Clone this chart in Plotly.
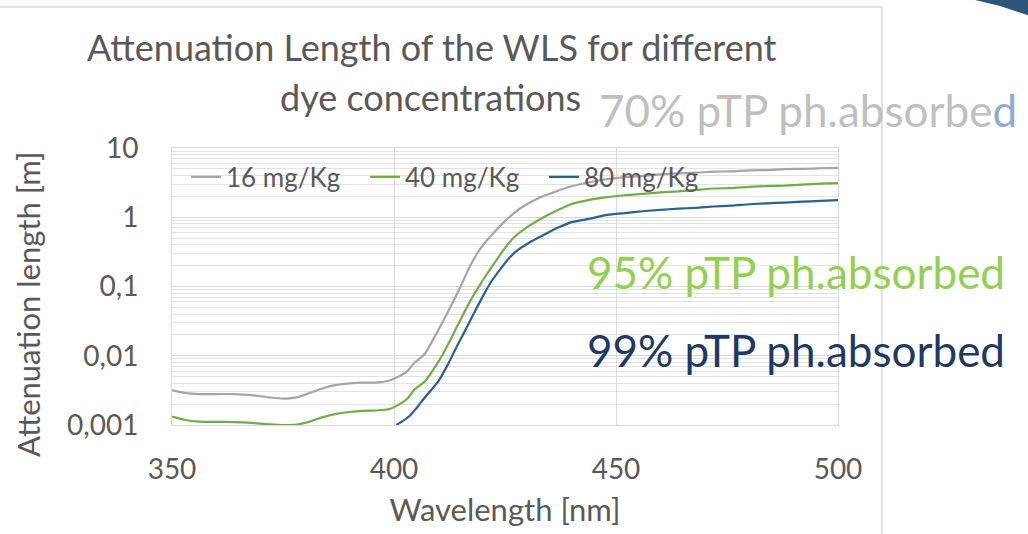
import plotly.graph_objects as go

# Wavelength grid (nm) and attenuation lengths (m) for the three dye concentrations
wl_16 = [350, 353, 356, 360, 364, 368, 372, 375, 378, 381, 384, 387, 390, 393, 396, 399,
         401, 403, 404.5, 405.5, 407, 409, 411, 413, 415, 417, 419, 421, 423, 425, 427,
         430, 433, 436, 440, 444, 448, 452, 456, 460, 464, 468, 472, 476, 480, 484, 488,
         492, 496, 500]
att_16 = [0.0032, 0.0029, 0.0028, 0.0028, 0.0028, 0.0027, 0.0025, 0.0024, 0.0025, 0.0029,
          0.0034, 0.0038, 0.0040, 0.0041, 0.0041, 0.0044, 0.0050, 0.0060, 0.0078, 0.0088,
          0.0108, 0.018, 0.031, 0.055, 0.100, 0.19, 0.32, 0.47, 0.65, 0.88, 1.15,
          1.55, 1.95, 2.3, 2.8, 3.2, 3.55, 3.8, 3.95, 4.15, 4.3, 4.4, 4.55, 4.6, 4.75,
          4.8, 4.95, 5.0, 5.1, 5.15]

wl_40 = [350, 353, 356, 360, 364, 368, 372, 375, 378, 381, 384, 387, 390, 393, 396, 399,
         401, 403, 404.5, 405.5, 407, 409, 411, 413, 415, 417, 419, 421, 423, 425, 427,
         430, 433, 436, 440, 444, 448, 452, 456, 460, 464, 468, 472, 476, 480, 484, 488,
         492, 496, 500]
att_40 = [0.00132, 0.00118, 0.00112, 0.00111, 0.00110, 0.00107, 0.00102, 0.00100, 0.00101,
          0.00112, 0.00130, 0.00145, 0.00154, 0.00160, 0.00162, 0.00170, 0.00195, 0.0024,
          0.0032, 0.0036, 0.0043, 0.0065, 0.0105, 0.0185, 0.0335, 0.059, 0.097, 0.154,
          0.237, 0.36, 0.51, 0.72, 0.945, 1.19, 1.55, 1.78, 1.95, 2.08, 2.18, 2.28, 2.36,
          2.48, 2.6, 2.64, 2.75, 2.82, 2.86, 2.95, 3.05, 3.12]

wl_80 = [400.5, 402, 403.5, 404.7, 405.5, 406.5, 408, 410, 412, 414, 416, 418, 420, 422,
         424, 426, 428, 431, 434, 437, 440, 444, 448, 452, 456, 460, 464, 468, 472, 476,
         480, 484, 488, 492, 496, 500]
att_80 = [0.00100, 0.00115, 0.00135, 0.00165, 0.0019, 0.0023, 0.0030, 0.0043, 0.0072,
          0.0130, 0.023, 0.041, 0.072, 0.12, 0.18, 0.26, 0.34, 0.45, 0.57, 0.71, 0.85,
          0.95, 1.08, 1.15, 1.22, 1.28, 1.33, 1.37, 1.43, 1.47, 1.54, 1.59, 1.63, 1.68,
          1.72, 1.77]

series_names = ["16 mg/Kg", "40 mg/Kg", "80 mg/Kg"]
series_colors = ["#a5a5a5", "#70ad47", "#2b5f94"]

y_tick_vals = [0.001, 0.01, 0.1, 1, 10]
y_tick_text = ["0,001", "0,01", "0,1", "1", "10"]
x_tick_vals = [350, 400, 450, 500]

FONT = "Lato"
TXT = "#595959"

fig = go.Figure()
for wl, att, name, col in zip([wl_16, wl_40, wl_80], [att_16, att_40, att_80],
                              series_names, series_colors):
    fig.add_trace(go.Scatter(x=wl, y=att, mode="lines", name=name,
                             line=dict(color=col, width=2.2, shape="spline", smoothing=0.6)))

# minor gridlines at 2..9 of each decade
minor_vals = [m * 10 ** e for e in range(-3, 1) for m in range(2, 10)]

W, H = 1028, 534
L, R, T, B = 172, 190, 148, 109
pw, ph = W - L - R, H - T - B


def px(x):
    return (x - L) / pw


def py(y):
    return (H - B - y) / ph


fig.update_layout(
    width=W, height=H, autosize=False,
    margin=dict(l=L, r=R, t=T, b=B, pad=0),
    paper_bgcolor="white", plot_bgcolor="white",
    font=dict(family=FONT, color=TXT),
    showlegend=True,
    legend=dict(orientation="h", x=px(186), y=py(177), xanchor="left", yanchor="middle",
                bgcolor="rgba(0,0,0,0)", font=dict(size=26, color=TXT, family=FONT),
                entrywidth=134, entrywidthmode="pixels", itemwidth=30,
                tracegroupgap=0),
    xaxis=dict(range=[350, 500], tickvals=x_tick_vals, showgrid=True,
               gridcolor="#d9d9d9", gridwidth=1, showline=True, linecolor="#d9d9d9",
               mirror=True, ticks="", ticklabelstandoff=19,
               tickfont=dict(size=28, color=TXT),
               title=dict(text="Wavelength [nm]", font=dict(size=31, color=TXT),
                          standoff=15),
               zeroline=False),
    yaxis=dict(type="log", range=[-3, 1], tickvals=y_tick_vals, ticktext=y_tick_text,
               showgrid=True, gridcolor="#d9d9d9", gridwidth=1, showline=True,
               linecolor="#d9d9d9", mirror=True, ticks="", ticklabelstandoff=27,
               tickfont=dict(size=28, color=TXT),
               minor=dict(tickvals=minor_vals, showgrid=True, gridcolor="#e2e2e2",
                          gridwidth=1, ticks=""),
               zeroline=False),
)

# chart frame edges and the corner accent
fig.add_shape(type="line", xref="paper", yref="paper", x0=px(0), x1=px(882),
              y0=py(7), y1=py(7), line=dict(color="#d9d9d9", width=1.5))
fig.add_shape(type="line", xref="paper", yref="paper", x0=px(882), x1=px(882),
              y0=py(7), y1=py(534), line=dict(color="#d9d9d9", width=1.5))
fig.add_shape(type="path", xref="paper", yref="paper",
              path=f"M {px(975)},{py(0)} L {px(1030)},{py(0)} L {px(1030)},{py(16)} "
                   f"L {px(1000)},{py(6)} Z",
              fillcolor="#2f5479", line=dict(width=0))

annotations = [
    dict(text="Attenuation Length of the WLS for different", x=px(432), y=py(47),
         font=dict(size=36, color=TXT)),
    dict(text="dye concentrations", x=px(430), y=py(97), font=dict(size=36, color=TXT)),
    dict(text="70% pTP ph.absorbe<span style='color:#8eaadb'>d</span>", x=px(808),
         y=py(110), font=dict(size=44, color="#bfbfbf")),
    dict(text="95% pTP ph.absorbed", x=px(796), y=py(272), font=dict(size=44, color="#92d050")),
    dict(text="99% pTP ph.absorbed", x=px(796), y=py(350), font=dict(size=44, color="#1f3864")),
    dict(text="Attenuation length [m]", x=px(28), y=py(305), textangle=-90,
         font=dict(size=31, color=TXT)),
]
for a in annotations:
    fig.add_annotation(xref="paper", yref="paper", xanchor="center", yanchor="middle",
                       showarrow=False, **a)

fig.write_html("out.html")
